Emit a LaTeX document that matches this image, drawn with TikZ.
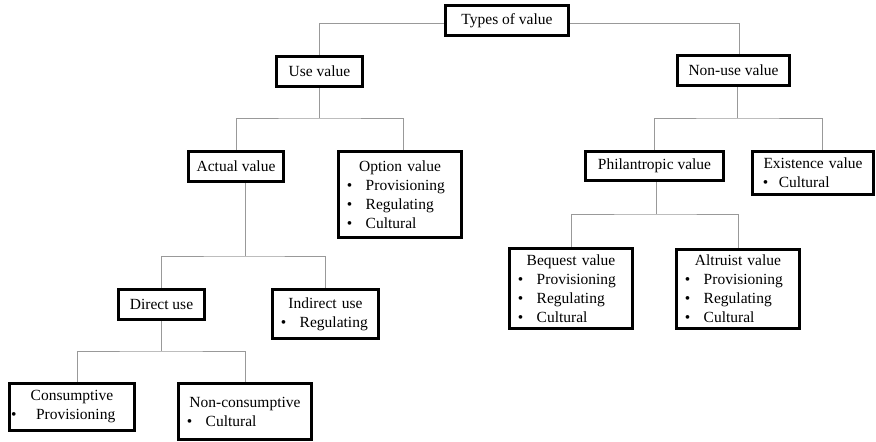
\documentclass[tikz,border=0pt]{standalone}
\usepackage{fontspec}
\setmainfont{Liberation Serif}
\usetikzlibrary{backgrounds}
\newcommand{\hd}[1]{\makebox[\linewidth][c]{#1}}
\newcommand{\bl}[2][19pt]{\makebox[#1][l]{\textbullet}#2}
\begin{document}
\begin{tikzpicture}[x=1pt,y=-1pt,
  box/.style={draw=black, line width=2.9pt, fill=white, inner sep=0pt,
    font=\fontsize{15.5}{19}\selectfont},
  lbox/.style={box, align=left, inner xsep=8.3pt, inner ysep=0pt},
  conn/.style={draw=black!40, line width=1pt}]
\useasboundingbox (0,0) rectangle (876,442);
% single-line boxes
\node[box, minimum width=123.1pt, minimum height=30.1pt] (top) at (507,20.5) {Types of value};
\node[box, minimum width=86.1pt, minimum height=30.1pt] (use) at (319.5,71.5) {Use value};
\node[box, minimum width=112.1pt, minimum height=30.1pt] (nonuse) at (733.5,70.5) {Non-use value};
\node[box, minimum width=95.1pt, minimum height=30.1pt] (actual) at (236,166.5) {Actual value};
\node[box, minimum width=138.1pt, minimum height=29.1pt] (phil) at (654.5,166) {Philantropic value};
\node[box, minimum width=86.1pt, minimum height=30.1pt] (direct) at (161.5,304.5) {Direct use};
% multi-line boxes
\node[lbox, text width=106.5pt, minimum height=86.1pt] (option) at (400,194.5)
  {\hd{Option value}\\\bl{Provisioning}\\\bl{Regulating}\\\bl{Cultural}};
\node[lbox, inner xsep=10.3pt, text width=100.5pt, minimum height=43.1pt] (exist) at (813,173)
  {\hd{Existence value}\\\bl[16pt]{Cultural}};
\node[lbox, text width=106.5pt, minimum height=80.1pt] (bequest) at (571,288.5)
  {\hd{Bequest value}\\\bl{Provisioning}\\\bl{Regulating}\\\bl{Cultural}};
\node[lbox, text width=106.5pt, minimum height=79.1pt] (altruist) at (738,289)
  {\hd{Altruist value}\\\bl{Provisioning}\\\bl{Regulating}\\\bl{Cultural}};
\node[lbox, text width=89.5pt, minimum height=49.1pt] (indirect) at (325.5,314)
  {\hd{Indirect use}\\\bl{Regulating}};
\node[lbox, inner xsep=1.6pt, text width=121.9pt, minimum height=47.1pt] (consump) at (72,407)
  {\hd{Consumptive}\\\bl[25pt]{Provisioning}};
\node[lbox, text width=116.5pt, minimum height=56.1pt] (noncons) at (245,411.5)
  {\hd{Non-consumptive}\\\bl{Cultural}};
% bus points
\coordinate (b1) at (319.5,118);
\coordinate (b2) at (737,118);
\coordinate (b3) at (656,214);
\coordinate (b4) at (245,256);
\coordinate (b5) at (161,351);
\begin{scope}[on background layer]
\draw[conn] ([yshift=-2.5pt]top.west) -| (use.north);
\draw[conn] ([yshift=-2.5pt]top.east) -| ([xshift=5.5pt]nonuse.north);
\draw[conn] (use.south) -- (b1);
\draw[conn] (actual.north) |- (b1) -| ([xshift=3pt]option.north);
\draw[conn] (b2 |- nonuse.south) -- (b2);
\draw[conn] (phil.north) |- (b2) -| ([xshift=9pt]exist.north);
\draw[conn] (b3 |- phil.south) -- (b3);
\draw[conn] (bequest.north) |- (b3) -| (altruist.north);
\draw[conn] (b4 |- actual.south) -- (b4);
\draw[conn] (direct.north) |- (b4) -| (indirect.north);
\draw[conn] (b5 |- direct.south) -- (b5);
\draw[conn] ([xshift=5pt]consump.north) |- (b5) -| (noncons.north);
\end{scope}
\end{tikzpicture}
\end{document}
